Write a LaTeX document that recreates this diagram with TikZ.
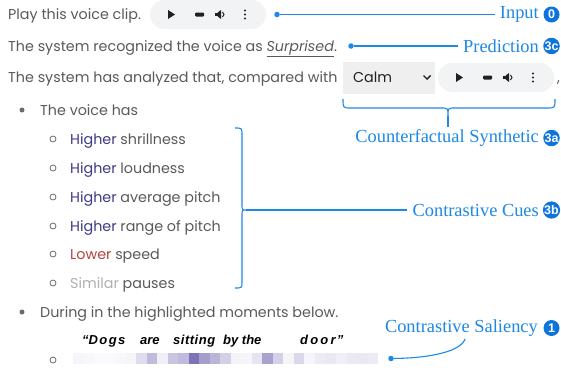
\documentclass[tikz,border=0pt]{standalone}
\usepackage{fontspec}
\setmainfont{Poppins}
\newfontfamily\lblfont{Liberation Serif}
\newfontfamily\quotefont{Liberation Sans}
\newfontfamily\badgefont{Liberation Sans}
\definecolor{txt}{HTML}{5A5A5A}
\definecolor{higher}{HTML}{3F3A87}
\definecolor{lower}{HTML}{B5443F}
\definecolor{similar}{HTML}{B0B0B0}
\definecolor{lblue}{HTML}{1E88E5}
\definecolor{bblue}{HTML}{0E74DC}
\definecolor{pillbg}{HTML}{F1F3F4}
\definecolor{selbg}{HTML}{EFEFEF}
\definecolor{icon}{HTML}{202124}
\definecolor{sal}{HTML}{4A3D9A}
\tikzset{
  body/.style={font=\fontsize{14.3}{16}\selectfont, text=txt, anchor=base west, inner sep=0pt},
  lbl/.style={font=\lblfont\fontsize{18.4}{20}\selectfont, text=lblue, anchor=east, inner sep=0pt},
  badge/.style={circle, fill=bblue, text=white, font=\badgefont\bfseries\fontsize{12.5}{12.5}\selectfont, inner sep=0pt, minimum size=16pt},
  conn/.style={draw=lblue, line width=1.1pt},
  enddot/.style={circle, fill=lblue, inner sep=0pt, minimum size=5.5pt},
  bulletdot/.style={circle, fill=txt!90, inner sep=0pt, minimum size=5pt},
  subdot/.style={circle, draw=txt!90, line width=0.8pt, inner sep=0pt, minimum size=6pt},
  qword/.style={font=\quotefont\bfseries\itshape\fontsize{13}{14}\selectfont, text=black, anchor=base west, inner sep=0pt},
  player/.pic={
    \fill[pillbg, rounded corners=14.5pt] (-58,-14.5) rectangle (58,14.5);
    \fill[icon] (-40,-4.5) -- (-40,4.5) -- (-33,0) -- cycle;
    \fill[icon, rounded corners=1pt] (-13,-2) rectangle (-4,2);
    \fill[icon] (7,-1.8) rectangle (9.5,1.8);
    \fill[icon] (9.5,-1.8) -- (13,-4.5) -- (13,4.5) -- (9.5,1.8) -- cycle;
    \draw[icon, line width=1pt] (14.5,-2.5) .. controls (16.5,-1.5) and (16.5,1.5) .. (14.5,2.5);
    \fill[icon] (37,-4) circle (1.2) (37,0) circle (1.2) (37,4) circle (1.2);
  }
}
\begin{document}
\begin{tikzpicture}[x=1pt,y=-1pt]
\useasboundingbox (0,0) rectangle (561,372);
\fill[white] (0,0) rectangle (561,372);

% Line 1
\node[body] (t1) at (8,19.5) {Play this voice clip.};
\pic at (208,14.5) {player};
\node[enddot] (dIn) at (277,14.5) {};
\node[lbl] (lIn) at (539,14.5) {Input};
\node[badge] (bIn) at (551.5,14.5) {0};
\draw[conn, shorten >=5pt] (dIn) -- (lIn.west);

% Line 2
\node[body] (t2) at (8,51) {The system recognized the voice as \underline{\textit{Surprised}}.};
\node[enddot] (dPr) at (351,46) {};
\node[lbl] (lPr) at (539,46) {Prediction};
\node[badge] (bPr) at (551.5,46) {3c};
\draw[conn, shorten >=5pt] (dPr) -- (lPr.west);

% Line 3
\node[body] (t3) at (8,82.5) {The system has analyzed that, compared with};
\fill[selbg] (343,62) rectangle (435,94);
\node[body, text=icon] (calm) at (353,82.5) {Calm};
\draw[icon, line width=1.4pt] (423.5,75.5) -- (427,79) -- (430.5,75.5);
\pic at (496,77.5) {player};
\node[body] (comma) at (557,82.5) {,};

% Counterfactual brace
\draw[conn] (343,99) .. controls (343,108) .. (351,108) -- (441,108)
  .. controls (448,108) .. (448,116) .. controls (448,108) .. (455,108)
  -- (547,108) .. controls (555,108) .. (555,99);
\coordinate (cfTip) at (448,127);
\draw[conn] (448,116) -- (cfTip);
\node[lbl] (lCf) at (539,138) {Counterfactual Synthetic};
\node[badge] (bCf) at (551.5,138) {3a};

% Bullet 1
\node[bulletdot] (b1) at (22,110) {};
\node[body] (t4) at (40,115) {The voice has};

\node[subdot] (s1) at (53,139) {};
\node[body] (i1) at (70,144) {\textcolor{higher}{Higher} shrillness};
\node[subdot] (s2) at (53,168) {};
\node[body] (i2) at (70,173) {\textcolor{higher}{Higher} loudness};
\node[subdot] (s3) at (53,197) {};
\node[body] (i3) at (70,202) {\textcolor{higher}{Higher} average pitch};
\node[subdot] (s4) at (53,226) {};
\node[body] (i4) at (70,231) {\textcolor{higher}{Higher} range of pitch};
\node[subdot] (s5) at (53,254) {};
\node[body] (i5) at (70,259) {\textcolor{lower}{Lower} speed};
\node[subdot] (s6) at (53,283) {};
\node[body] (i6) at (70,288) {\textcolor{similar}{Similar} pauses};

% Contrastive cues brace
\coordinate (ccTip) at (246,210);
\draw[conn] (235,128) .. controls (242,128) .. (242,135) -- (242,204)
  .. controls (242,210) .. (246,210) .. controls (242,210) .. (242,216)
  -- (242,282) .. controls (242,288) .. (235,288);
\node[lbl] (lCc) at (539,210) {Contrastive Cues};
\node[badge] (bCc) at (551.5,210) {3b};
\draw[conn, shorten >=5pt] (ccTip) -- (lCc.west);

% Bullet 2
\node[bulletdot] (b2) at (22,312) {};
\node[body] (t5) at (40,317) {During in the highlighted moments below.};

% Quote words
\node[qword] (w1) at (82,344.5) {“D\hspace{1.4pt}o\hspace{1.4pt}g\hspace{1.4pt}s};
\node[qword] (w2) at (140,344.5) {are};
\node[qword] (w3) at (173,344.5) {s\hspace{0.5pt}i\hspace{0.5pt}t\hspace{0.5pt}t\hspace{0.5pt}i\hspace{0.5pt}n\hspace{0.5pt}g};
\node[qword] (w4) at (223,344.5) {by the};
\node[qword] (w5) at (300,344.5) {d\hspace{2.2pt}o\hspace{2.2pt}o\hspace{2.2pt}r\hspace{1.2pt}”};

% Saliency strip
\node[subdot] (s7) at (53,360) {};
\foreach \i/\v in {0/5,1/4,2/3,3/3,4/4,5/5,6/18,7/35,8/8,9/30,10/35,11/72,12/50,13/38,14/25,
                   15/6,16/5,17/14,18/48,19/24,20/5,21/20,22/5,23/10,24/12,25/8,26/11,27/12,28/10}
  \fill[sal!\v!white] ({73+\i*10.52},353) rectangle ({73+(\i+1)*10.52},364);

\node[enddot] (dSa) at (391,358.5) {};
\coordinate (saTip) at (465,339);
\node[lbl] (lSa) at (538,328) {Contrastive Saliency};
\node[badge] (bSa) at (551.5,328) {1};
\draw[conn] (dSa) .. controls (432,358) and (461,351) .. (saTip);
\end{tikzpicture}
\end{document}
